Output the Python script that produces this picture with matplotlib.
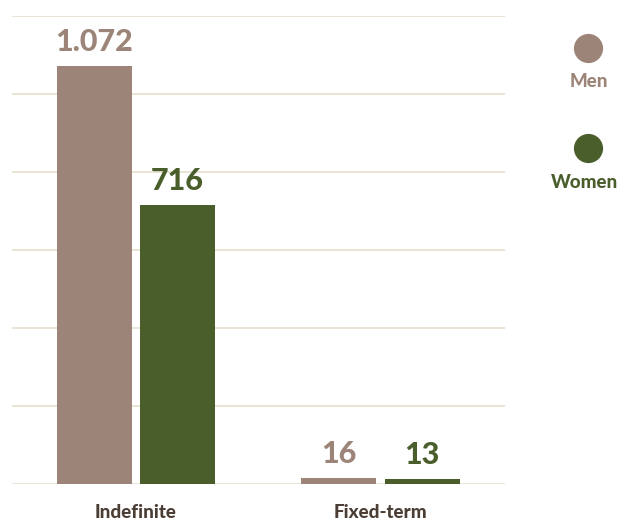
import matplotlib.pyplot as plt

categories = ["Indefinite", "Fixed-term"]
men = [1072, 16]
women = [716, 13]
men_labels = ["1.072", "16"]
women_labels = ["716", "13"]

c_men = "#9c8578"
c_women = "#4a5e2c"
c_grid = "#e6dfcf"
c_text = "#4b3d33"

plt.rcParams['font.family'] = ['Lato', 'DejaVu Sans']

fig = plt.figure(figsize=(6.31, 5.23), dpi=100)
ax = fig.add_axes([12 / 631, 1 - 484 / 523, 493 / 631, 468 / 523])

w = 0.307
off = 0.17
x = range(len(categories))
for i in x:
    ax.bar(i - off, men[i], width=w, color=c_men, zorder=3)
    ax.bar(i + off, women[i], width=w, color=c_women, zorder=3)
    ax.text(i - off, men[i] + 25, men_labels[i], ha="center", va="bottom",
            fontsize=22, fontweight="black", color=c_men)
    ax.text(i + off, women[i] + 25, women_labels[i], ha="center", va="bottom",
            fontsize=22, fontweight="black", color=c_women)

ax.set_xlim(-0.507, 1.509)
ax.set_ylim(0, 1200)
ax.set_yticks(range(0, 1201, 200))
ax.yaxis.grid(True, color=c_grid, linewidth=1.2, zorder=0)
ax.tick_params(left=False, bottom=False, labelleft=False)
ax.set_xticks(list(x))
ax.set_xticklabels(categories, fontsize=13.5, fontweight="black", color=c_text)
ax.tick_params(axis="x", pad=11)
for s in ax.spines.values():
    s.set_visible(False)

# legend drawn in figure coords
fig.lines.append(plt.Line2D([588 / 631], [1 - 48 / 523], marker="o", markersize=20,
                            color=c_men, transform=fig.transFigure))
fig.text(589 / 631, 1 - 82 / 523, "Men", ha="center", va="center",
         fontsize=13.5, fontweight="black", color=c_men)
fig.lines.append(plt.Line2D([588 / 631], [1 - 148 / 523], marker="o", markersize=20,
                            color=c_women, transform=fig.transFigure))
fig.text(585 / 631, 1 - 182 / 523, "Women", ha="center", va="center",
         fontsize=13.5, fontweight="black", color=c_women)

fig.savefig("out.png", dpi=100)
